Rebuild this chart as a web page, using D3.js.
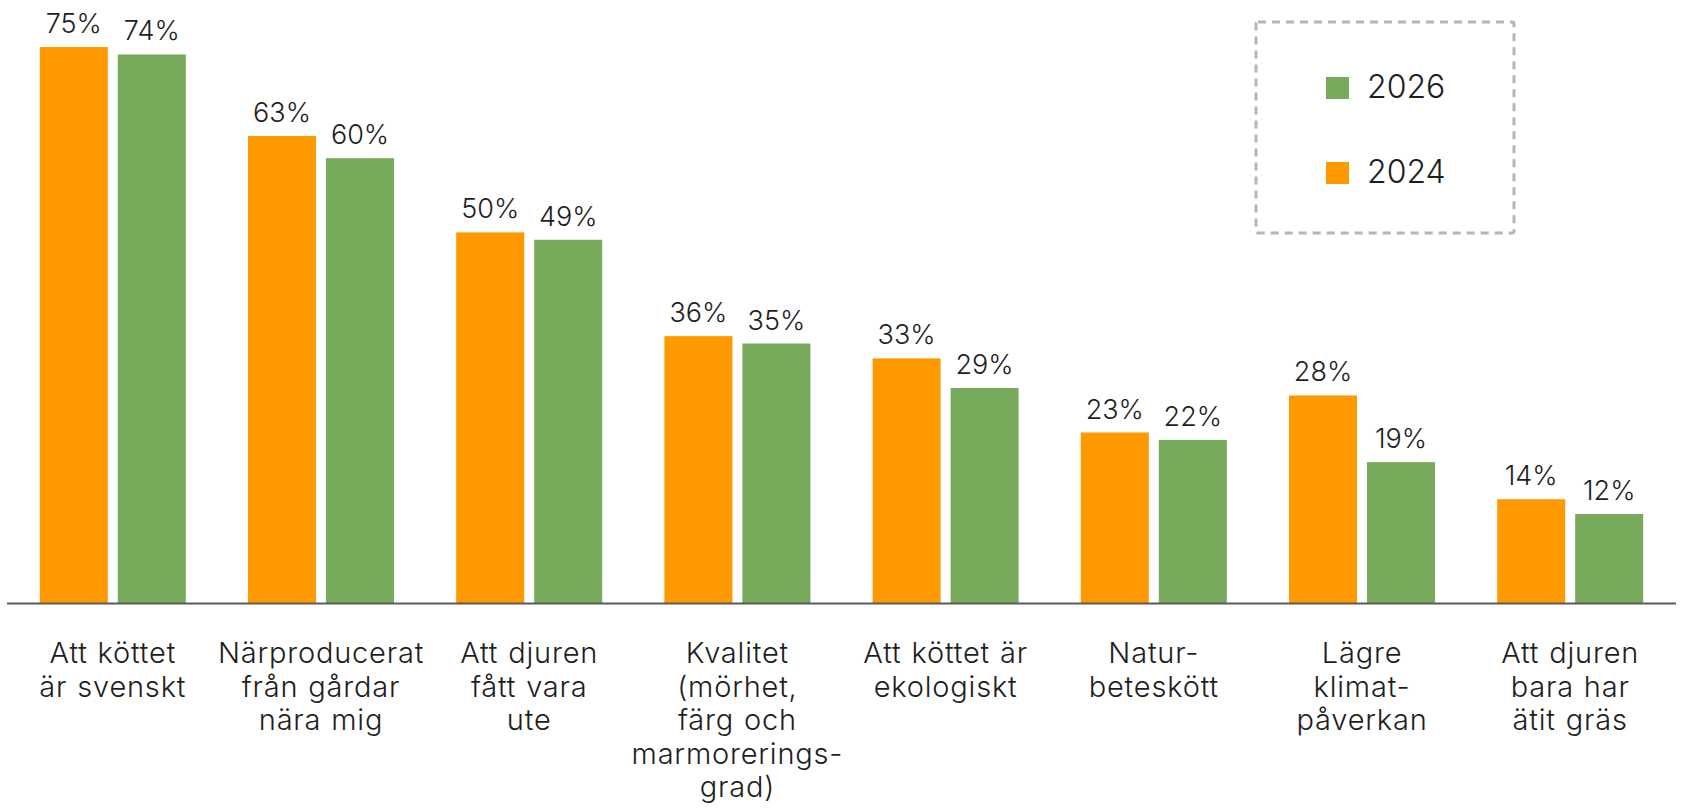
<!DOCTYPE html>
<html>
<head>
<meta charset="utf-8">
<script src="https://cdn.jsdelivr.net/npm/d3@7"></script>
<style>
  html, body { margin: 0; padding: 0; background: #fff; }
  svg { display: block; }
  text { font-family: Inter, "Noto Sans", sans-serif; font-weight: 300; fill: #1e1e1e; }
</style>
</head>
<body>
<svg id="chart" width="1681" height="808"></svg>
<script>
const categories = [
  ["Att köttet", "är svenskt"],
  ["Närproducerat", "från gårdar", "nära mig"],
  ["Att djuren", "fått vara", "ute"],
  ["Kvalitet", "(mörhet,", "färg och", "marmorerings-", "grad)"],
  ["Att köttet är", "ekologiskt"],
  ["Natur-", "beteskött"],
  ["Lägre", "klimat-", "påverkan"],
  ["Att djuren", "bara har", "ätit gräs"]
];
const seriesNames = ["2024", "2026"];
const values2024 = [75, 63, 50, 36, 33, 23, 28, 14];
const values2026 = [74, 60, 49, 35, 29, 22, 19, 12];
const colors = { "2024": "#FF9900", "2026": "#78AA5B" };
const legendOrder = ["2026", "2024"];

const svg = d3.select("#chart");
const catKeys = categories.map((c, i) => i);

const x = d3.scaleBand().domain(catKeys).range([8.7, 1674.3]).paddingInner(0).paddingOuter(0);
const x1 = d3.scaleBand().domain(seriesNames).range([31.1, 177.1]).paddingInner(0.128).paddingOuter(0);
const y = d3.scaleLinear().domain([0, 100]).range([603, -138.3]);

const data = catKeys.map(i => ({ i, vals: [
  { s: "2024", v: values2024[i] },
  { s: "2026", v: values2026[i] }
]}));

const groups = svg.selectAll("g.grp").data(data).join("g")
  .attr("class", "grp")
  .attr("transform", d => `translate(${x(d.i)},0)`);

groups.selectAll("rect").data(d => d.vals).join("rect")
  .attr("x", d => x1(d.s))
  .attr("y", d => y(d.v))
  .attr("width", x1.bandwidth())
  .attr("height", d => y(0) - y(d.v))
  .attr("fill", d => colors[d.s]);

groups.selectAll("text.val").data(d => d.vals).join("text")
  .attr("class", "val")
  .attr("x", d => x1(d.s) + x1.bandwidth() / 2)
  .attr("y", d => y(d.v) - 14)
  .attr("text-anchor", "middle")
  .style("font-size", "27px")
  .text(d => d.v + "%");

// axis baseline
svg.append("line")
  .attr("x1", 7).attr("x2", 1676)
  .attr("y1", y(0) + 0.5).attr("y2", y(0) + 0.5)
  .attr("stroke", "#5a5a5a").attr("stroke-width", 2);

// category labels
const lab = svg.selectAll("text.cat").data(data).join("text")
  .attr("class", "cat")
  .attr("text-anchor", "middle")
  .style("font-size", "29px")
  .style("letter-spacing", "0.8px")
  .style("word-spacing", "1px");
lab.selectAll("tspan").data(d => categories[d.i].map((t, k) => ({ t, k, cx: x(d.i) + x.bandwidth() / 2 })))
  .join("tspan")
  .attr("x", d => d.cx)
  .attr("y", d => 663 + d.k * 33.5)
  .text(d => d.t);

// legend
svg.append("rect")
  .attr("x", 1256).attr("y", 22).attr("width", 258).attr("height", 211)
  .attr("rx", 2)
  .attr("fill", "none").attr("stroke", "#b5b5b5").attr("stroke-width", 3)
  .attr("stroke-dasharray", "8,6");

const lg = svg.selectAll("g.lg").data(legendOrder).join("g")
  .attr("class", "lg")
  .attr("transform", (d, i) => `translate(1326,${77 + i * 85})`);
lg.append("rect").attr("width", 23).attr("height", 22).attr("fill", d => colors[d]);
lg.append("text").attr("x", 41).attr("y", 21).style("font-size", "32px").text(d => d);
</script>
</body>
</html>
